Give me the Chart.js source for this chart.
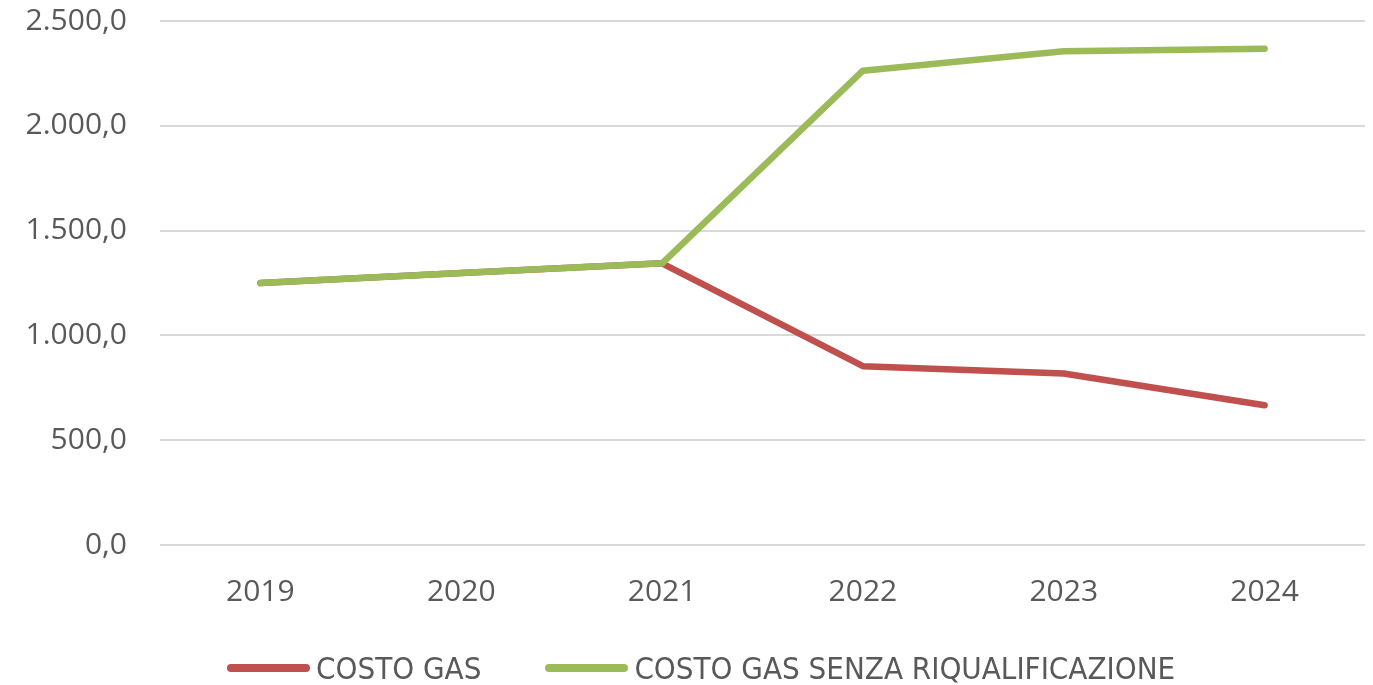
<!DOCTYPE html>
<html>
<head>
<meta charset="utf-8">
<script src="https://cdn.jsdelivr.net/npm/chart.js@4.4.1/dist/chart.umd.min.js"></script>
<style>
  html, body { margin: 0; padding: 0; background: #fff; }
  #wrap { position: relative; width: 1373px; height: 685px; }
  #legenda { position: absolute; left: 227px; top: 650px; display: flex; align-items: center;
             font-family: 'DejaVu Sans Condensed', 'Liberation Sans Narrow', Roboto, sans-serif;
             font-size: 31px; color: #595959; white-space: nowrap; }
  .voce { display: flex; align-items: center; margin-right: 64px; }
  .campione { width: 83px; height: 8px; border-radius: 4px; margin-right: 6px; }
</style>
</head>
<body>
<div id="wrap">
  <canvas id="graficoGas"></canvas>
  <div id="legenda"></div>
</div>
<script>
const anni = ['2019', '2020', '2021', '2022', '2023', '2024']
const costoGas = [1250, 1298, 1344, 853, 818, 667]
const costoSenzaRiqualificazione = [1250, 1298, 1344, 2263, 2356, 2368]

const coloreTesto = '#595959'

// formato italiano: 2.500,0
function formattaNumero(valore){
    const parti = valore.toFixed(1).split('.')
    const interi = parti[0].replace(/\B(?=(\d{3})+(?!\d))/g, '.')
    return interi + ',' + parti[1]
}

const elementoGrafico = document.getElementById('graficoGas')

const grafico = new Chart(elementoGrafico, {
    type: 'line',
    data: {
      labels: anni,
      datasets: [{
        label: 'COSTO GAS',
        data: costoGas,
        borderColor: '#C0504D',
        backgroundColor: '#C0504D',
        borderWidth: 6.5,
        order: 1
      }, {
        label: 'COSTO GAS SENZA RIQUALIFICAZIONE',
        data: costoSenzaRiqualificazione,
        borderColor: '#9BBB59',
        backgroundColor: '#9BBB59',
        borderWidth: 6.5,
        order: 0
      }]
    },
    options: {
      responsive: true,
      maintainAspectRatio: false,
      animation: false,
      layout: { padding: { top: 0, right: 8, left: 0, bottom: 75 } },
      elements: {
        point: { radius: 0 },
        line: { tension: 0, borderCapStyle: 'round', borderJoinStyle: 'round' }
      },
      scales: {
        x: {
          offset: true,
          grid: { display: false },
          border: { display: false },
          afterFit: (scala) => { scala.height = 65 },
          ticks: { color: coloreTesto, padding: 21, font: { family: 'Open Sans', size: 30 } }
        },
        y: {
          min: 0,
          max: 2500,
          grid: { color: '#D9D9D9', lineWidth: 2, drawTicks: false },
          border: { display: false },
          afterFit: (scala) => {
            scala.width = 160
            scala.paddingTop = 21
            scala.paddingBottom = 18
          },
          ticks: {
            stepSize: 500,
            color: coloreTesto,
            padding: 33,
            font: { family: 'Open Sans', size: 30 },
            callback: (valore) => formattaNumero(valore)
          }
        }
      },
      plugins: {
        tooltip: { enabled: false },
        legend: { display: false }
      }
    }
})

// legenda in html, costruita dai dataset del grafico
const legenda = document.getElementById('legenda')
grafico.data.datasets.forEach((dataset) => {
    const voce = document.createElement('div')
    voce.className = 'voce'
    const campione = document.createElement('span')
    campione.className = 'campione'
    campione.style.background = dataset.borderColor
    const testo = document.createElement('span')
    testo.textContent = dataset.label
    voce.appendChild(campione)
    voce.appendChild(testo)
    legenda.appendChild(voce)
})
</script>
</body>
</html>
